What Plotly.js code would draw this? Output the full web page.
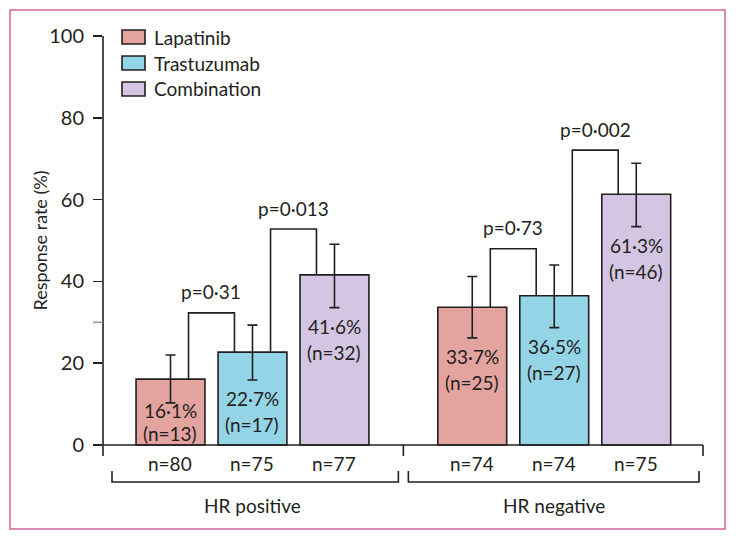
<!DOCTYPE html>
<html>
<head>
<meta charset="utf-8">
<script src="https://cdn.plot.ly/plotly-3.0.1.min.js"></script>
<style>
  body { margin: 0; background: #fff; }
  #chart { width: 736px; height: 540px; }
</style>
</head>
<body>
<div id="chart"></div>
<script>
// Data
var groups = ['HR positive', 'HR negative'];
var treatments = ['Lapatinib', 'Trastuzumab', 'Combination'];

var lapatinibRate = [16.1, 33.7];
var trastuzumabRate = [22.7, 36.5];
var combinationRate = [41.6, 61.3];

var lapatinibCiLow = [10.3, 26.2];
var lapatinibCiHigh = [22.0, 41.2];
var trastuzumabCiLow = [15.9, 28.7];
var trastuzumabCiHigh = [29.3, 44.0];
var combinationCiLow = [33.6, 53.4];
var combinationCiHigh = [49.1, 68.9];

var lapatinibResponders = [13, 25];
var trastuzumabResponders = [17, 27];
var combinationResponders = [32, 46];

var lapatinibTotal = [80, 74];
var trastuzumabTotal = [75, 74];
var combinationTotal = [77, 75];

// comparisons: [group, treatment a, treatment b]
var comparisons = [[0, 0, 1], [0, 1, 2], [1, 0, 1], [1, 1, 2]];
var pValues = ['p=0·31', 'p=0·013', 'p=0·73', 'p=0·002'];
var bracketHeight = [32.3, 52.8, 48.0, 72.1];

// Layout constants (pixels)
var PLOT_L = 103, PLOT_W = 600, PLOT_T = 36, PLOT_H = 490;
var Y_MIN = -19.8, Y_MAX = 100;
var X_MIN = 0.177, X_MAX = 7.494;
var GROUP_GAP = 3.68;
var BAR_W = 0.84;
var INK = '#231f20';
var FONT = 'Lato, "Open Sans", sans-serif';
var TXT = 19;
var colors = ['#e3a39e', '#93d4e6', '#d4c6e2'];

var rates = [lapatinibRate, trastuzumabRate, combinationRate];
var ciLow = [lapatinibCiLow, trastuzumabCiLow, combinationCiLow];
var ciHigh = [lapatinibCiHigh, trastuzumabCiHigh, combinationCiHigh];
var responders = [lapatinibResponders, trastuzumabResponders, combinationResponders];
var totals = [lapatinibTotal, trastuzumabTotal, combinationTotal];

var unitPerPx = (Y_MAX - Y_MIN) / PLOT_H;
var xPerPx = (X_MAX - X_MIN) / PLOT_W;

function barX(g, t) { return 1 + g * GROUP_GAP + t; }
function pxY(v) { return PLOT_T + (Y_MAX - v) / unitPerPx; }
function valY(py) { return Y_MAX - (py - PLOT_T) * unitPerPx; }
function paperX(px) { return (px - PLOT_L) / PLOT_W; }
function paperY(py) { return (PLOT_T + PLOT_H - py) / PLOT_H; }
function fmt(v) { return v.toFixed(1).replace('.', '·') + '%'; }

var traces = treatments.map(function (name, t) {
    return {
        type: 'bar',
        name: name,
        x: groups.map(function (g, gi) { return barX(gi, t); }),
        y: rates[t],
        width: BAR_W,
        marker: { color: colors[t], line: { color: INK, width: 1.6 } },
        error_y: {
            type: 'data',
            symmetric: false,
            array: rates[t].map(function (v, i) { return ciHigh[t][i] - v; }),
            arrayminus: rates[t].map(function (v, i) { return v - ciLow[t][i]; }),
            color: INK,
            thickness: 1.6,
            width: 5
        },
        hoverinfo: 'skip',
        showlegend: false
    };
});

var shapes = [];
var annotations = [];
function line(x0, y0, x1, y1, xref, yref, color) {
    shapes.push({ type: 'line', xref: xref, yref: yref, x0: x0, y0: y0, x1: x1, y1: y1,
        line: { color: color || INK, width: 1.6 } });
}

// axes drawn by hand
var stubBottom = valY(pxY(0) + 11);
line(0, stubBottom, 0, Y_MAX, 'paper', 'y');
line(0, 0, 1, 0, 'paper', 'y');
line(1, 0, 1, stubBottom, 'paper', 'y');
var sepX = (barX(0, 2) + barX(1, 0)) / 2;
line(sepX, 0, sepX, stubBottom, 'x', 'y');
line(paperX(PLOT_L - 10), 30, 0, 30, 'paper', 'y', '#9a9a9a');

// group brackets below the axis
var brTop = valY(pxY(0) + 26), brBot = valY(pxY(0) + 37);
var groupEnds = [[X_MIN + 9 * xPerPx, sepX - 5 * xPerPx], [sepX + 5 * xPerPx, X_MAX - 4 * xPerPx]];
groups.forEach(function (g, gi) {
    var a = groupEnds[gi][0], b = groupEnds[gi][1];
    shapes.push({ type: 'path', xref: 'x', yref: 'y',
        path: 'M' + a + ',' + brTop + 'L' + a + ',' + brBot + 'L' + b + ',' + brBot + 'L' + b + ',' + brTop,
        line: { color: INK, width: 1.6 } });
    annotations.push({ x: barX(gi, 1), y: 0, yshift: -60, xref: 'x', yref: 'y', text: g,
        showarrow: false, yanchor: 'middle', font: { size: TXT } });
});

// n labels and in-bar labels
treatments.forEach(function (name, t) {
    groups.forEach(function (g, gi) {
        var x = barX(gi, t);
        annotations.push({ x: x, y: 0, yshift: -18, xref: 'x', yref: 'y', text: 'n=' + totals[t][gi],
            showarrow: false, yanchor: 'middle', font: { size: TXT } });
        var l2 = Math.min(pxY(ciLow[t][gi]) + 45, pxY(0) - 12);
        var l1 = Math.min(pxY(ciLow[t][gi]) + 19, l2 - 23);
        annotations.push({ x: x, y: valY(l1), xref: 'x', yref: 'y', text: fmt(rates[t][gi]),
            showarrow: false, yanchor: 'middle', font: { size: TXT } });
        annotations.push({ x: x, y: valY(l2), xref: 'x', yref: 'y', text: '(n=' + responders[t][gi] + ')',
            showarrow: false, yanchor: 'middle', font: { size: TXT } });
    });
});

// p-value brackets
comparisons.forEach(function (c, i) {
    var xa = barX(c[0], c[1]) + 0.22, xb = barX(c[0], c[2]) - 0.22;
    var h = bracketHeight[i];
    shapes.push({ type: 'path', xref: 'x', yref: 'y',
        path: 'M' + xa + ',' + rates[c[1]][c[0]] + 'L' + xa + ',' + h + 'L' + xb + ',' + h + 'L' + xb + ',' + rates[c[2]][c[0]],
        line: { color: INK, width: 1.6 } });
    annotations.push({ x: (xa + xb) / 2, y: h, yshift: 21, xref: 'x', yref: 'y', text: pValues[i],
        showarrow: false, yanchor: 'middle', font: { size: TXT } });
});

// legend
treatments.forEach(function (name, t) {
    var cy = 37 + t * 26;
    shapes.push({ type: 'rect', xref: 'paper', yref: 'paper',
        x0: paperX(122), x1: paperX(145), y0: paperY(cy - 7), y1: paperY(cy + 7),
        fillcolor: colors[t], line: { color: INK, width: 1.6 } });
    annotations.push({ x: paperX(152), y: paperY(cy), xref: 'paper', yref: 'paper', text: name,
        showarrow: false, xanchor: 'left', yanchor: 'middle', font: { size: TXT } });
});

// axis title
annotations.push({ x: paperX(40), y: 50, xref: 'paper', yref: 'y', text: 'Response rate (%)',
    textangle: -90, showarrow: false, xanchor: 'center', yanchor: 'middle', font: { size: 18 } });

// pink frame
shapes.push({ type: 'rect', xref: 'paper', yref: 'paper',
    x0: paperX(10), x1: paperX(725), y0: paperY(529), y1: paperY(10),
    line: { color: '#d0649a', width: 1.5 } });

var layout = {
    width: 736,
    height: 540,
    margin: { l: PLOT_L, r: 736 - PLOT_L - PLOT_W, t: PLOT_T, b: 540 - PLOT_T - PLOT_H },
    paper_bgcolor: '#fff',
    plot_bgcolor: 'rgba(0,0,0,0)',
    barmode: 'overlay',
    font: { family: FONT, color: INK, size: TXT },
    xaxis: {
        range: [X_MIN, X_MAX],
        showgrid: false,
        zeroline: false,
        showticklabels: false,
        ticks: '',
        showline: false
    },
    yaxis: {
        range: [Y_MIN, Y_MAX],
        showgrid: false,
        zeroline: false,
        showline: false,
        tickvals: [0, 20, 40, 60, 80, 100],
        ticks: 'outside',
        ticklen: 9,
        tickwidth: 1.6,
        tickcolor: INK,
        ticklabelstandoff: 5,
        tickfont: { size: 20, color: INK }
    },
    shapes: shapes,
    annotations: annotations
};

Plotly.newPlot('chart', traces, layout, { displayModeBar: false, staticPlot: true });
</script>
</body>
</html>
